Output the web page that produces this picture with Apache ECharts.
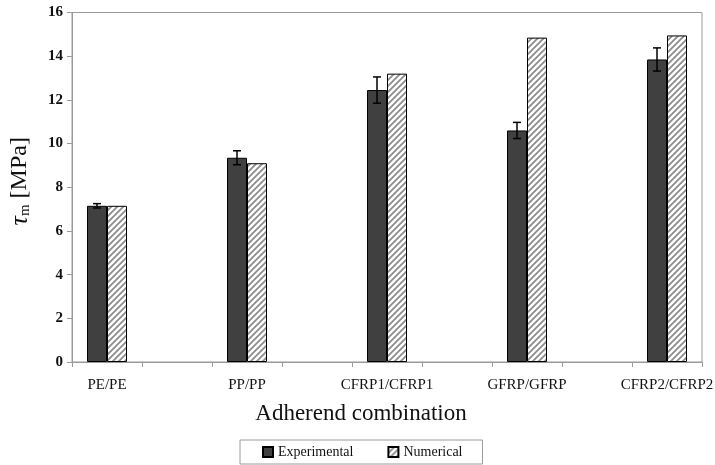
<!DOCTYPE html>
<html>
<head>
<meta charset="utf-8">
<script src="https://cdn.jsdelivr.net/npm/echarts@6/dist/echarts.min.js"></script>
<style>
html,body{margin:0;padding:0;background:#fff;}
#chart{width:715px;height:465px;}
</style>
</head>
<body>
<div id="chart"></div>
<script>
// Adherend combinations (spacer slots between groups are left blank)
const categories = ['PE/PE', '', 'PP/PP', '', 'CFRP1/CFRP1', '', 'GFRP/GFRP', '', 'CFRP2/CFRP2'];
// Apparent shear strength, MPa
const experimental = [7.15, null, 9.35, null, 12.45, null, 10.6, null, 13.85];
const experimentalErr = [0.1, null, 0.32, null, 0.6, null, 0.37, null, 0.53];
const numerical = [7.15, null, 9.1, null, 13.2, null, 14.85, null, 14.95];
const yTicks = { min: 0, max: 16, interval: 2 };

const FONT = '"Liberation Serif", "Times New Roman", serif';
const BAR_W = 20;

// Diagonal hatch fill for the numerical series
function hatchPattern() {
  const s = 6;
  const c = document.createElement('canvas');
  c.width = s; c.height = s;
  const g = c.getContext('2d');
  g.fillStyle = '#ffffff';
  g.fillRect(0, 0, s, s);
  g.strokeStyle = '#8c8c8c';
  g.lineWidth = 1.8;
  g.beginPath();
  g.moveTo(0, s); g.lineTo(s, 0);
  g.moveTo(-s / 2, s / 2); g.lineTo(s / 2, -s / 2);
  g.moveTo(s / 2, s * 1.5); g.lineTo(s * 1.5, s / 2);
  g.stroke();
  return c;
}
const hatch = { image: hatchPattern(), repeat: 'repeat' };

const errData = experimental.map((v, i) => v == null ? null : [i, v, experimentalErr[i]]);

const chart = echarts.init(document.getElementById('chart'), null, { renderer: 'canvas' });
chart.setOption({
  animation: false,
  backgroundColor: '#ffffff',
  grid: {
    left: 72, right: 13, top: 12.5, bottom: 103,
    containLabel: false, outerBoundsMode: 'none',
    show: true, borderColor: '#9a9a9a', borderWidth: 1
  },
  legend: {
    left: 240, top: 440,
    padding: [5, 20, 5, 22],
    borderColor: '#9a9a9a', borderWidth: 1,
    itemWidth: 10, itemHeight: 10, itemGap: 34,
    textStyle: { fontFamily: FONT, fontSize: 14, color: '#111' },
    data: [
      { name: 'Experimental', icon: 'rect' },
      { name: 'Numerical', icon: 'rect' }
    ]
  },
  xAxis: {
    type: 'category',
    data: categories,
    name: 'Adherend combination',
    nameLocation: 'middle',
    nameGap: 40,
    nameTextStyle: { fontFamily: FONT, fontSize: 23, color: '#111', padding: [0, 52, 0, 0] },
    axisLine: { lineStyle: { color: '#9a9a9a', width: 1 } },
    axisTick: { show: true, interval: 0, length: 5, lineStyle: { color: '#9a9a9a' } },
    axisLabel: { interval: 0, fontFamily: FONT, fontSize: 15, color: '#111', margin: 16 },
    splitLine: { show: false }
  },
  yAxis: {
    type: 'value',
    min: yTicks.min, max: yTicks.max, interval: yTicks.interval,
    name: '{t|τ}{s|m}{n| [MPa]}',
    nameLocation: 'middle',
    nameRotate: 90,
    nameGap: 39,
    nameTextStyle: {
      padding: [0, 0, 0, 12],
      rich: {
        t: { fontFamily: FONT, fontStyle: 'italic', fontSize: 26, color: '#111' },
        s: { fontFamily: FONT, fontSize: 15, color: '#111', verticalAlign: 'bottom', padding: [8, 0, 0, 0] },
        n: { fontFamily: FONT, fontSize: 24, color: '#111' }
      }
    },
    axisLine: { show: true, lineStyle: { color: '#9a9a9a', width: 1 } },
    axisTick: { show: true, length: 5, lineStyle: { color: '#9a9a9a' } },
    axisLabel: { fontFamily: FONT, fontSize: 15, fontWeight: 'bold', color: '#111', margin: 9 },
    splitLine: { show: false }
  },
  series: [
    {
      name: 'Experimental',
      type: 'bar',
      data: experimental,
      barWidth: BAR_W,
      barGap: '0%',
      itemStyle: { color: '#404040', borderColor: '#000', borderWidth: 1 }
    },
    {
      name: 'Numerical',
      type: 'bar',
      data: numerical,
      barWidth: BAR_W,
      barGap: '0%',
      itemStyle: { color: hatch, borderColor: '#000', borderWidth: 1 }
    },
    {
      name: 'err',
      type: 'custom',
      data: errData.filter(d => d),
      z: 10,
      renderItem: function (params, api) {
        const i = api.value(0), v = api.value(1), e = api.value(2);
        const hi = api.coord([i, v + e]);
        const lo = api.coord([i, v - e]);
        const x = hi[0] - BAR_W / 2;
        const cap = 4;
        const st = { stroke: '#000', lineWidth: 1.5 };
        return {
          type: 'group',
          children: [
            { type: 'line', shape: { x1: x, y1: hi[1], x2: x, y2: lo[1] }, style: st },
            { type: 'line', shape: { x1: x - cap, y1: hi[1], x2: x + cap, y2: hi[1] }, style: st },
            { type: 'line', shape: { x1: x - cap, y1: lo[1], x2: x + cap, y2: lo[1] }, style: st }
          ]
        };
      }
    }
  ]
});
</script>
</body>
</html>
